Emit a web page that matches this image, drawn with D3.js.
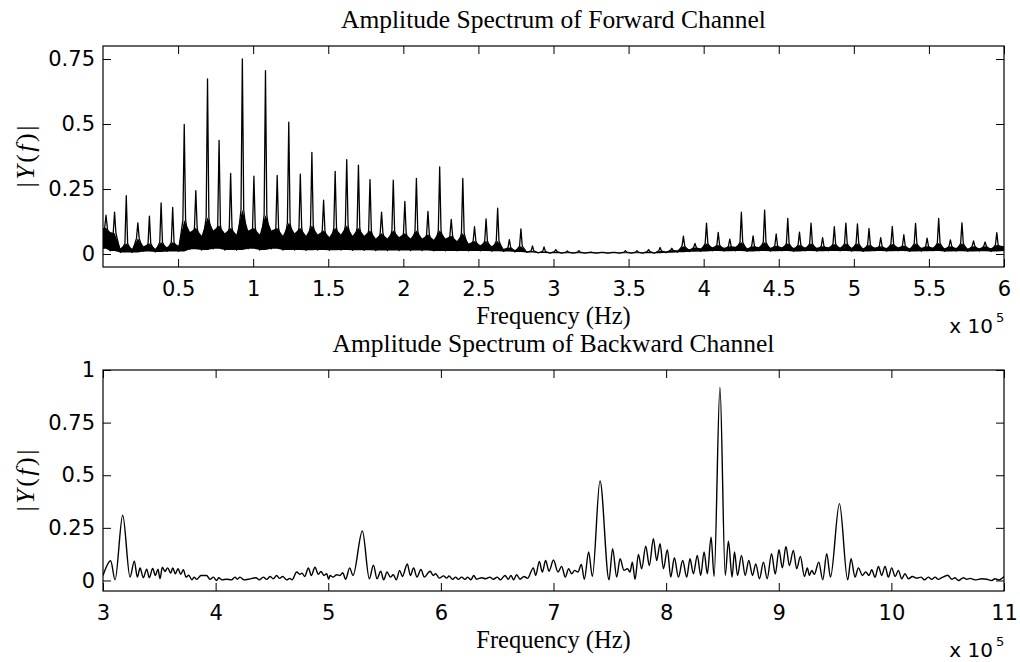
<!DOCTYPE html>
<html>
<head>
<meta charset="utf-8">
<script src="https://cdn.jsdelivr.net/npm/d3@7"></script>
<style>
  body { margin: 0; background: #fff; }
</style>
</head>
<body>
<svg id="chart" width="1020" height="662"></svg>
<script>
// Forward channel: harmonic peaks, frequency in units of 1e5 Hz
var fwdPeakFreq = [
  0.020, 0.077, 0.155, 0.232, 0.309, 0.387, 0.464, 0.541, 0.618, 0.696,
  0.773, 0.850, 0.928, 1.005, 1.082, 1.160, 1.237, 1.314, 1.391, 1.469,
  1.546, 1.623, 1.701, 1.778, 1.855, 1.933, 2.010, 2.087, 2.164, 2.242,
  2.319, 2.396, 2.474, 2.551, 2.628, 2.706, 2.783, 2.860, 2.937, 3.015,
  3.092, 3.169, 3.247, 3.324, 3.401, 3.479, 3.556, 3.633, 3.710, 3.788,
  3.865, 3.942, 4.019, 4.097, 4.174, 4.251, 4.329, 4.406, 4.483, 4.560,
  4.638, 4.715, 4.792, 4.870, 4.947, 5.024, 5.101, 5.179, 5.256, 5.333,
  5.411, 5.488, 5.565, 5.643, 5.720, 5.797, 5.874, 5.952
];
var fwdPeakAmp = [
  0.149, 0.161, 0.224, 0.120, 0.146, 0.197, 0.179, 0.498, 0.244, 0.673,
  0.437, 0.310, 0.750, 0.299, 0.705, 0.302, 0.507, 0.307, 0.391, 0.207,
  0.318, 0.363, 0.342, 0.286, 0.161, 0.284, 0.202, 0.291, 0.164, 0.335,
  0.133, 0.291, 0.105, 0.135, 0.176, 0.055, 0.097, 0.031, 0.027, 0.017,
  0.012, 0.013, 0.007, 0.006, 0.006, 0.013, 0.013, 0.017, 0.025, 0.022,
  0.069, 0.041, 0.119, 0.083, 0.057, 0.161, 0.070, 0.169, 0.077, 0.137,
  0.084, 0.119, 0.063, 0.105, 0.119, 0.116, 0.098, 0.063, 0.106, 0.074,
  0.118, 0.061, 0.137, 0.054, 0.120, 0.050, 0.046, 0.082
];
// skirt level at the foot of each peak
var fwdShoulder = [
  0.100, 0.080, 0.040, 0.060, 0.040, 0.045, 0.045, 0.130, 0.100, 0.140,
  0.110, 0.100, 0.170, 0.100, 0.150, 0.100, 0.120, 0.100, 0.110, 0.090,
  0.100, 0.110, 0.100, 0.090, 0.080, 0.090, 0.080, 0.090, 0.075, 0.090,
  0.070, 0.080, 0.050, 0.050, 0.050, 0.025, 0.030, 0.012, 0.010, 0.009,
  0.007, 0.007, 0.006, 0.006, 0.006, 0.007, 0.007, 0.009, 0.012, 0.014,
  0.030, 0.025, 0.040, 0.035, 0.030, 0.045, 0.030, 0.045, 0.032, 0.040,
  0.035, 0.040, 0.030, 0.038, 0.040, 0.040, 0.035, 0.030, 0.038, 0.032,
  0.040, 0.030, 0.042, 0.030, 0.040, 0.030, 0.030, 0.035
];
// noise floor between neighbouring peaks (first = left edge, last = right edge)
var fwdFloorLo = [
  0.020, 0.012, 0.006, 0.006, 0.010, 0.008, 0.010, 0.010, 0.018, 0.015,
  0.020, 0.015, 0.015, 0.020, 0.015, 0.020, 0.015, 0.015, 0.014, 0.015,
  0.014, 0.015, 0.014, 0.014, 0.013, 0.013, 0.013, 0.013, 0.013, 0.012,
  0.012, 0.012, 0.012, 0.012, 0.011, 0.010, 0.008, 0.006, 0.004, 0.003,
  0.003, 0.003, 0.003, 0.003, 0.003, 0.003, 0.003, 0.003, 0.003, 0.005,
  0.007, 0.009, 0.010, 0.012, 0.011, 0.012, 0.010, 0.012, 0.011, 0.012,
  0.010, 0.012, 0.011, 0.012, 0.012, 0.011, 0.010, 0.012, 0.011, 0.012,
  0.010, 0.011, 0.012, 0.010, 0.011, 0.010, 0.011, 0.010, 0.012
];
var fwdFloorHi = [
  0.100, 0.085, 0.022, 0.020, 0.030, 0.020, 0.026, 0.032, 0.085, 0.070,
  0.090, 0.080, 0.075, 0.090, 0.075, 0.090, 0.070, 0.080, 0.070, 0.075,
  0.065, 0.075, 0.070, 0.070, 0.060, 0.060, 0.065, 0.060, 0.060, 0.055,
  0.060, 0.050, 0.040, 0.034, 0.030, 0.020, 0.015, 0.010, 0.007, 0.006,
  0.006, 0.006, 0.006, 0.006, 0.006, 0.006, 0.006, 0.006, 0.006, 0.010,
  0.014, 0.018, 0.022, 0.026, 0.024, 0.028, 0.022, 0.027, 0.024, 0.026,
  0.023, 0.025, 0.024, 0.026, 0.025, 0.024, 0.022, 0.025, 0.023, 0.026,
  0.022, 0.024, 0.025, 0.022, 0.023, 0.021, 0.022, 0.022, 0.030
];

// Backward channel: local maxima / minima of |Y(f)|, frequency in 1e5 Hz
var bwdFreq = [
  3.000, 3.068, 3.107, 3.175, 3.240, 3.278, 3.305, 3.329, 3.358, 3.388,
  3.411, 3.441, 3.465, 3.488, 3.506, 3.527, 3.550, 3.574, 3.601, 3.619,
  3.642, 3.666, 3.690, 3.713, 3.737, 3.761, 3.790, 3.808, 3.832, 3.870,
  3.920, 3.950, 3.980, 4.009, 4.027, 4.057, 4.098, 4.142, 4.172, 4.193,
  4.216, 4.252, 4.290, 4.358, 4.388, 4.424, 4.453, 4.483, 4.512, 4.542,
  4.566, 4.595, 4.631, 4.660, 4.678, 4.720, 4.749, 4.767, 4.791, 4.823,
  4.850, 4.882, 4.912, 4.935, 4.962, 4.986, 5.004, 5.016, 5.042, 5.075,
  5.104, 5.128, 5.155, 5.190, 5.220, 5.303, 5.365, 5.401, 5.433, 5.466,
  5.492, 5.522, 5.551, 5.578, 5.604, 5.634, 5.658, 5.702, 5.729, 5.758,
  5.788, 5.823, 5.853, 5.904, 5.933, 5.954, 5.986, 6.024, 6.051, 6.072,
  6.104, 6.131, 6.155, 6.184, 6.214, 6.238, 6.267, 6.291, 6.318, 6.362,
  6.398, 6.436, 6.466, 6.501, 6.528, 6.569, 6.599, 6.623, 6.646, 6.673,
  6.703, 6.738, 6.770, 6.821, 6.842, 6.874, 6.901, 6.930, 6.960, 7.000,
  7.040, 7.072, 7.105, 7.134, 7.161, 7.188, 7.217, 7.247, 7.274, 7.312,
  7.345, 7.413, 7.493, 7.525, 7.561, 7.591, 7.626, 7.656, 7.679, 7.700,
  7.724, 7.754, 7.783, 7.819, 7.851, 7.887, 7.916, 7.946, 7.976, 8.011,
  8.041, 8.073, 8.109, 8.147, 8.183, 8.212, 8.242, 8.277, 8.307, 8.337,
  8.366, 8.399, 8.426, 8.478, 8.525, 8.553, 8.586, 8.607, 8.634, 8.669,
  8.702, 8.734, 8.767, 8.796, 8.829, 8.864, 8.897, 8.936, 8.969, 9.002,
  9.032, 9.064, 9.094, 9.130, 9.159, 9.192, 9.228, 9.254, 9.272, 9.293,
  9.316, 9.355, 9.391, 9.426, 9.459, 9.539, 9.612, 9.642, 9.677, 9.707,
  9.743, 9.772, 9.802, 9.825, 9.855, 9.885, 9.914, 9.944, 9.973, 10.003,
  10.033, 10.062, 10.092, 10.121, 10.151, 10.187, 10.225, 10.264, 10.293, 10.329,
  10.358, 10.388, 10.417, 10.447, 10.500, 10.536, 10.565, 10.595, 10.640, 10.669,
  10.699, 10.743, 10.802, 10.847, 10.891, 10.920, 10.956, 11.000
];
var bwdAmp = [
  0.024, 0.094, 0.003, 0.310, 0.016, 0.092, 0.016, 0.059, 0.013, 0.054,
  0.013, 0.057, 0.024, 0.054, 0.008, 0.063, 0.043, 0.060, 0.035, 0.060,
  0.032, 0.056, 0.029, 0.051, 0.016, 0.025, 0.003, 0.016, 0.005, 0.024,
  0.024, 0.006, 0.016, 0.000, 0.013, 0.003, 0.006, 0.003, 0.016, 0.006,
  0.016, 0.003, 0.006, 0.013, 0.003, 0.016, 0.005, 0.019, 0.008, 0.024,
  0.010, 0.019, 0.003, 0.010, 0.003, 0.040, 0.029, 0.035, 0.019, 0.059,
  0.024, 0.063, 0.029, 0.043, 0.024, 0.032, 0.006, 0.024, 0.016, 0.027,
  0.024, 0.037, 0.006, 0.060, 0.024, 0.235, 0.008, 0.073, 0.008, 0.044,
  0.003, 0.040, 0.016, 0.027, 0.003, 0.048, 0.019, 0.078, 0.024, 0.059,
  0.016, 0.052, 0.016, 0.044, 0.024, 0.032, 0.011, 0.022, 0.011, 0.021,
  0.006, 0.016, 0.005, 0.016, 0.005, 0.016, 0.003, 0.024, 0.006, 0.013,
  0.008, 0.016, 0.006, 0.016, 0.003, 0.024, 0.006, 0.024, 0.003, 0.027,
  0.006, 0.019, 0.010, 0.060, 0.024, 0.090, 0.040, 0.095, 0.044, 0.097,
  0.040, 0.067, 0.016, 0.056, 0.032, 0.048, 0.040, 0.076, 0.005, 0.135,
  0.019, 0.473, 0.003, 0.151, 0.016, 0.103, 0.048, 0.056, 0.040, 0.087,
  0.005, 0.124, 0.056, 0.163, 0.071, 0.198, 0.095, 0.175, 0.056, 0.146,
  0.016, 0.108, 0.016, 0.095, 0.016, 0.103, 0.032, 0.119, 0.024, 0.135,
  0.032, 0.206, 0.020, 0.917, 0.025, 0.187, 0.016, 0.135, 0.024, 0.119,
  0.024, 0.095, 0.024, 0.079, 0.008, 0.087, 0.008, 0.127, 0.030, 0.146,
  0.060, 0.162, 0.071, 0.143, 0.056, 0.114, 0.019, 0.060, 0.024, 0.048,
  0.029, 0.087, 0.003, 0.127, 0.016, 0.365, 0.003, 0.103, 0.016, 0.060,
  0.024, 0.040, 0.024, 0.051, 0.016, 0.067, 0.024, 0.067, 0.016, 0.060,
  0.019, 0.048, 0.008, 0.032, 0.008, 0.019, 0.011, 0.016, 0.003, 0.016,
  0.006, 0.016, 0.005, 0.013, 0.025, 0.006, 0.013, 0.000, 0.013, 0.006,
  0.010, 0.003, 0.008, 0.006, 0.000, 0.008, 0.003, 0.019
];

var fwdXTicks = [0.5, 1, 1.5, 2, 2.5, 3, 3.5, 4, 4.5, 5, 5.5, 6];
var fwdYTicks = [0, 0.25, 0.5, 0.75];
var bwdXTicks = [3, 4, 5, 6, 7, 8, 9, 10, 11];
var bwdYTicks = [0, 0.25, 0.5, 0.75, 1];

var svg = d3.select("#chart");
var tickFont = "DejaVu Sans";
var labelFont = "Liberation Serif";

var panels = [
  { id: "fwd", title: "Amplitude Spectrum of Forward Channel",
    left: 103, right: 1004, top: 46, bottom: 267,
    xDomain: [0, 6], yDomain: [-0.05, 0.8], xTicks: fwdXTicks, yTicks: fwdYTicks },
  { id: "bwd", title: "Amplitude Spectrum of Backward Channel",
    left: 103, right: 1004, top: 370, bottom: 591,
    xDomain: [3, 11], yDomain: [-0.05, 1], xTicks: bwdXTicks, yTicks: bwdYTicks }
];

function drawFrame(p) {
  var x = d3.scaleLinear().domain(p.xDomain).range([p.left, p.right]);
  var y = d3.scaleLinear().domain(p.yDomain).range([p.bottom, p.top]);
  var g = svg.append("g").attr("class", p.id);

  svg.append("clipPath").attr("id", "clip-" + p.id)
    .append("rect")
    .attr("x", p.left).attr("y", p.top)
    .attr("width", p.right - p.left).attr("height", p.bottom - p.top);

  var fmt = d3.format("~g");

  var xb = g.append("g").attr("transform", "translate(0," + p.bottom + ")")
    .call(d3.axisBottom(x).tickValues(p.xTicks).tickFormat(fmt)
      .tickSizeInner(-8).tickSizeOuter(0).tickPadding(14.5));
  var xt = g.append("g").attr("transform", "translate(0," + p.top + ")")
    .call(d3.axisTop(x).tickValues(p.xTicks).tickFormat("")
      .tickSizeInner(-8).tickSizeOuter(0));
  var yl = g.append("g").attr("transform", "translate(" + p.left + ",0)")
    .call(d3.axisLeft(y).tickValues(p.yTicks).tickFormat(fmt)
      .tickSizeInner(-8).tickSizeOuter(0).tickPadding(8));
  var yr = g.append("g").attr("transform", "translate(" + p.right + ",0)")
    .call(d3.axisRight(y).tickValues(p.yTicks).tickFormat("")
      .tickSizeInner(-8).tickSizeOuter(0));

  [xb, xt, yl, yr].forEach(function (a) {
    a.select(".domain").remove();
    a.attr("font-family", tickFont).attr("font-size", 21);
    a.selectAll("line").attr("stroke", "#000").attr("stroke-width", 1);
    a.selectAll("text").attr("fill", "#000");
  });

  g.append("rect")
    .attr("x", p.left).attr("y", p.top)
    .attr("width", p.right - p.left).attr("height", p.bottom - p.top)
    .attr("fill", "none").attr("stroke", "#000").attr("stroke-width", 1.2);

  var cx = (p.left + p.right) / 2;
  g.append("text")
    .attr("x", cx).attr("y", p.top - 18)
    .attr("text-anchor", "middle")
    .attr("font-family", labelFont).attr("font-size", 25.5)
    .text(p.title);

  g.append("text")
    .attr("x", cx).attr("y", p.bottom + 56.5)
    .attr("text-anchor", "middle")
    .attr("font-family", labelFont).attr("font-size", 24.5)
    .text("Frequency (Hz)");

  // x 10^5 multiplier
  g.append("text")
    .attr("x", 993).attr("y", p.bottom + 66)
    .attr("text-anchor", "end")
    .attr("font-family", tickFont).attr("font-size", 20)
    .text("x 10");
  g.append("text")
    .attr("x", 996).attr("y", p.bottom + 55)
    .attr("font-family", tickFont).attr("font-size", 13)
    .text("5");

  var yLab = g.append("text")
    .attr("transform", "translate(34," + ((p.top + p.bottom) / 2) + ") rotate(-90)")
    .attr("text-anchor", "middle")
    .attr("font-family", labelFont).attr("font-size", 26)
    .attr("textLength", 62).attr("lengthAdjust", "spacing");
  yLab.append("tspan").text("|");
  yLab.append("tspan").attr("font-style", "italic").text("Y");
  yLab.append("tspan").text("(");
  yLab.append("tspan").attr("font-style", "italic").text("f");
  yLab.append("tspan").text(")|");

  return { x: x, y: y, g: g };
}

// forward channel
var fwdPanel = drawFrame(panels[0]);
var n = fwdPeakFreq.length;

function gapFreq(i) {
  if (i === 0) return panels[0].xDomain[0];
  if (i === n) return panels[0].xDomain[1];
  return (fwdPeakFreq[i - 1] + fwdPeakFreq[i]) / 2;
}

// noise band: floor between peaks, rising to the skirt under each peak
var bandData = [];
for (var i = 0; i <= n; i++) {
  bandData.push({ f: gapFreq(i), lo: fwdFloorLo[i], hi: fwdFloorHi[i] });
  if (i < n) {
    bandData.push({ f: fwdPeakFreq[i], lo: fwdFloorLo[i], hi: fwdShoulder[i] });
  }
}

var linePts = [];
for (var i = 0; i <= n; i++) {
  linePts.push([gapFreq(i), fwdFloorLo[i]]);
  if (i < n) {
    linePts.push([fwdPeakFreq[i] - 0.009, fwdShoulder[i]]);
    linePts.push([fwdPeakFreq[i], fwdPeakAmp[i]]);
    linePts.push([fwdPeakFreq[i] + 0.009, fwdShoulder[i]]);
  }
}

var fwdData = fwdPanel.g.append("g").attr("clip-path", "url(#clip-fwd)");

fwdData.append("path")
  .datum(bandData)
  .attr("fill", "#000")
  .attr("d", d3.area()
    .x(function (d) { return fwdPanel.x(d.f); })
    .y0(function (d) { return fwdPanel.y(d.lo); })
    .y1(function (d) { return fwdPanel.y(d.hi); }));

fwdData.append("path")
  .datum(linePts)
  .attr("fill", "none")
  .attr("stroke", "#000")
  .attr("stroke-width", 1.3)
  .attr("stroke-linejoin", "round")
  .attr("d", d3.line()
    .x(function (d) { return fwdPanel.x(d[0]); })
    .y(function (d) { return fwdPanel.y(d[1]); }));

// backward channel
var bwdPanel = drawFrame(panels[1]);
var bwdData = bwdPanel.g.append("g").attr("clip-path", "url(#clip-bwd)");

bwdData.append("path")
  .datum(d3.zip(bwdFreq, bwdAmp))
  .attr("fill", "none")
  .attr("stroke", "#000")
  .attr("stroke-width", 1.4)
  .attr("d", d3.line()
    .curve(d3.curveMonotoneX)
    .x(function (d) { return bwdPanel.x(d[0]); })
    .y(function (d) { return bwdPanel.y(d[1]); }));
</script>
</body>
</html>
